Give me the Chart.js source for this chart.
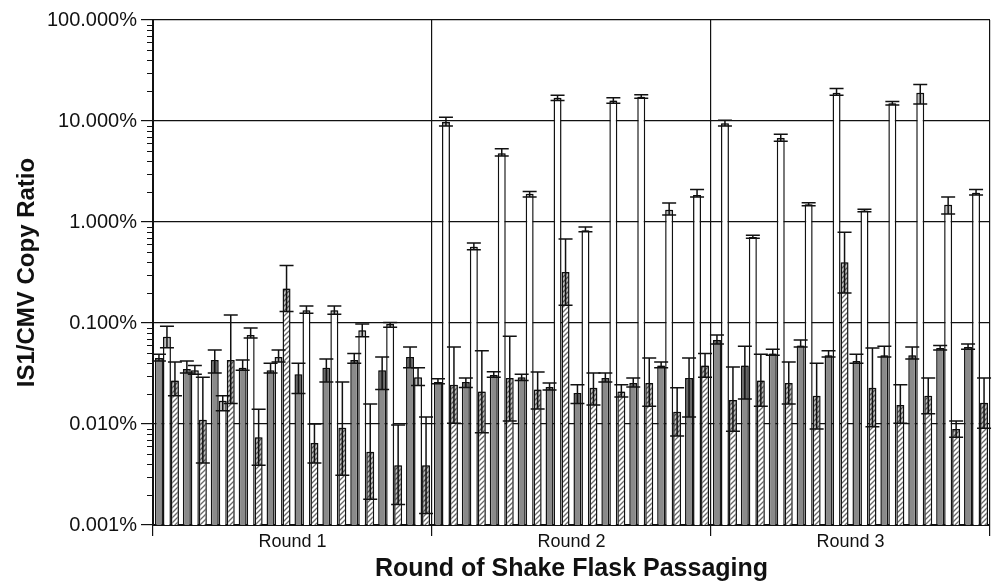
<!DOCTYPE html>
<html>
<head>
<meta charset="utf-8">
<script src="https://cdn.jsdelivr.net/npm/chart.js@4.4.1/dist/chart.umd.min.js"></script>
<style>
  html, body { margin: 0; padding: 0; background: #fff; }
  #wrap { width: 993px; height: 583px; position: relative; }
</style>
</head>
<body>
<div id="wrap"><canvas id="chart"></canvas></div>
<script>
// 30 flask samples, 10 per passaging round
var groups = ['1a','1b','1c','1d','1e','1f','1g','1h','1i','1j',
              '2a','2b','2c','2d','2e','2f','2g','2h','2i','2j',
              '3a','3b','3c','3d','3e','3f','3g','3h','3i','3j'];
var rounds = ['Round 1', 'Round 2', 'Round 3'];

// values in percent (IS1/CMV copy ratio)
var gray   = [0.045, 0.035, 0.043, 0.036, 0.034, 0.031, 0.036, 0.043, 0.034, 0.046,
              0.026, 0.026, 0.0306, 0.029, 0.0233, 0.0203, 0.0285, 0.0255, 0.038, 0.0285,
              0.068, 0.038, 0.05, 0.06, 0.048, 0.042, 0.048, 0.048, 0.0565, 0.058];
var grayHi = [0.049, 0.042, 0.054, 0.043, 0.040, 0.040, 0.044, 0.050, 0.046, 0.058,
              0.028, 0.0285, 0.033, 0.031, 0.0255, 0.0244, 0.032, 0.0285, 0.041, 0.045,
              0.076, 0.059, 0.055, 0.068, 0.053, 0.049, 0.059, 0.058, 0.060, 0.062];
var grayLo = [0.042, 0.032, 0.032, 0.034, 0.032, 0.020, 0.026, 0.040, 0.022, 0.036,
              0.025, 0.023, 0.029, 0.027, 0.0217, 0.016, 0.026, 0.0233, 0.036, 0.0117,
              0.062, 0.0177, 0.048, 0.058, 0.046, 0.040, 0.046, 0.044, 0.054, 0.055];

var white   = [0.073, 0.034, 0.017, 0.076, 0.046, 0.134, 0.134, 0.085, 0.098, 0.029,
               9.8, 0.57, 4.8, 1.9, 17, 0.83, 16, 17.4, 1.32, 1.85,
               9.5, 0.71, 6.8, 1.5, 19, 1.3, 15, 19, 1.48, 1.95];
var whiteHi = [0.093, 0.038, 0.019, 0.089, 0.054, 0.147, 0.147, 0.098, 0.101, 0.036,
               10.9, 0.62, 5.3, 2.0, 18, 0.89, 17, 18.2, 1.54, 2.1,
               10.2, 0.74, 7.4, 1.55, 21, 1.34, 15.6, 23, 1.77, 2.1];
var whiteLo = [0.057, 0.031, 0.0135, 0.071, 0.041, 0.125, 0.122, 0.073, 0.091, 0.024,
               8.9, 0.53, 4.5, 1.77, 16, 0.80, 15, 16.8, 1.17, 1.77,
               8.9, 0.69, 6.3, 1.45, 18, 1.26, 14.4, 14.7, 1.2, 1.85];

var hatched   = [0.027, 0.011, 0.043, 0.0074, 0.22, 0.0065, 0.0092, 0.0053, 0.0039, 0.0039,
                 0.0244, 0.021, 0.0285, 0.022, 0.32, 0.0228, 0.021, 0.0255, 0.0132, 0.038,
                 0.0173, 0.027, 0.0255, 0.019, 0.40, 0.0228, 0.0154, 0.019, 0.0089, 0.0162];
var hatchedHi = [0.041, 0.029, 0.12, 0.014, 0.37, 0.010, 0.026, 0.0158, 0.0098, 0.0117,
                 0.058, 0.053, 0.074, 0.0327, 0.68, 0.032, 0.0244, 0.045, 0.0228, 0.05,
                 0.0367, 0.049, 0.041, 0.040, 0.79, 0.0565, 0.0244, 0.0285, 0.0107, 0.0285];
var hatchedLo = [0.019, 0.0041, 0.016, 0.0039, 0.13, 0.0041, 0.0031, 0.0018, 0.0016, 0.0013,
                 0.0102, 0.0082, 0.0107, 0.0141, 0.15, 0.0154, 0.0185, 0.015, 0.0076, 0.029,
                 0.0085, 0.015, 0.0158, 0.0089, 0.198, 0.0094, 0.0102, 0.0126, 0.0074, 0.0091];

var yMin = 0.001, yMax = 100;

var FONT = "'Liberation Sans', Arial, sans-serif";

function hatchPattern() {
    var c = document.createElement('canvas');
    c.width = 5; c.height = 5;
    var g = c.getContext('2d');
    g.fillStyle = '#fff';
    g.fillRect(0, 0, 5, 5);
    g.strokeStyle = '#6a6a6a';
    g.lineWidth = 1.3;
    g.beginPath();
    g.moveTo(0, 5); g.lineTo(5, 0);
    g.moveTo(-1, 1); g.lineTo(1, -1);
    g.moveTo(4, 6); g.lineTo(6, 4);
    g.stroke();
    return g.createPattern(c, 'repeat');
}

function isMajor(v) {
    var e = Math.log10(v);
    return Math.abs(e - Math.round(e)) < 1e-6;
}

var errorBars = {
    id: 'errorBars',
    afterDatasetsDraw: function (chart) {
        var ctx = chart.ctx, y = chart.scales.y;
        var errs = [[grayHi, grayLo], [whiteHi, whiteLo], [hatchedHi, hatchedLo]];
        ctx.save();
        errs.forEach(function (e, d) {
            var meta = chart.getDatasetMeta(d);
            meta.data.forEach(function (bar, i) {
                var hi = y.getPixelForValue(e[0][i]);
                var lo = y.getPixelForValue(e[1][i]);
                var half = bar.width / 2;
                // darker band where the lower error overlaps the bar
                ctx.fillStyle = 'rgba(0,0,0,0.25)';
                ctx.fillRect(bar.x - half + 1, bar.y, bar.width - 2, lo - bar.y);
                ctx.strokeStyle = '#111';
                ctx.lineWidth = 1.5;
                ctx.beginPath();
                ctx.moveTo(bar.x, hi); ctx.lineTo(bar.x, lo);
                ctx.moveTo(bar.x - half - 3, hi); ctx.lineTo(bar.x + half + 3, hi);
                ctx.moveTo(bar.x - half - 3, lo); ctx.lineTo(bar.x + half + 3, lo);
                ctx.stroke();
            });
        });
        ctx.restore();
    }
};

// short minor ticks on the log axis
var minorTicks = {
    id: 'minorTicks',
    afterDraw: function (chart) {
        var ctx = chart.ctx, y = chart.scales.y;
        ctx.save();
        ctx.strokeStyle = '#111';
        ctx.lineWidth = 1;
        y.ticks.forEach(function (t) {
            if (isMajor(t.value)) return;
            var py = Math.round(y.getPixelForValue(t.value)) + 0.5;
            ctx.beginPath();
            ctx.moveTo(y.right - 6, py); ctx.lineTo(y.right, py);
            ctx.stroke();
        });
        ctx.restore();
    }
};

new Chart(document.getElementById('chart'), {
    type: 'bar',
    data: {
        labels: groups,
        datasets: [
            { label: 'gray', data: gray, backgroundColor: '#8a8a8a' },
            { label: 'white', data: white, backgroundColor: '#ffffff' },
            { label: 'hatched', data: hatched, backgroundColor: hatchPattern() }
        ].map(function (ds) {
            ds.borderColor = '#111';
            ds.borderWidth = 1.5;
            ds.categoryPercentage = 0.86;
            ds.barPercentage = 1.0;
            return ds;
        })
    },
    options: {
        responsive: true,
        maintainAspectRatio: false,
        animation: false,
        layout: { padding: { top: 20, right: 3, left: 0, bottom: 0 } },
        plugins: {
            legend: { display: false },
            tooltip: { enabled: false }
        },
        scales: {
            x: { display: false, offset: true },
            xr: {
                type: 'category',
                labels: rounds,
                position: 'bottom',
                offset: true,
                grid: { offset: true, color: '#111', lineWidth: 1.2, tickLength: 11, tickColor: '#111' },
                border: { color: '#111', width: 2 },
                ticks: { color: '#111', padding: -5, font: { family: FONT, size: 18 } },
                title: {
                    display: true,
                    text: 'Round of Shake Flask Passaging',
                    color: '#111',
                    padding: { top: 0, bottom: 1 },
                    font: { family: FONT, size: 25, weight: 'bold', lineHeight: 1 }
                },
                afterFit: function (s) { s.height = 58; }
            },
            y: {
                type: 'logarithmic',
                min: yMin,
                max: yMax,
                position: 'left',
                border: { color: '#111', width: 2 },
                grid: {
                    color: function (c) { return c.tick && isMajor(c.tick.value) ? '#111' : 'rgba(0,0,0,0)'; },
                    tickColor: function (c) { return c.tick && isMajor(c.tick.value) ? '#111' : 'rgba(0,0,0,0)'; },
                    lineWidth: 1.2,
                    tickLength: 12
                },
                afterBuildTicks: function (s) {
                    s.ticks = s.ticks.filter(function (t) {
                        var m = t.value / Math.pow(10, Math.floor(Math.log10(t.value) + 1e-9));
                        return Math.abs(m - Math.round(m)) < 1e-6;
                    });
                },
                ticks: {
                    autoSkip: false,
                    color: '#111',
                    padding: 4,
                    font: { family: FONT, size: 20 },
                    callback: function (v) { return isMajor(v) ? v.toFixed(3) + '%' : ''; }
                },
                title: {
                    display: true,
                    text: 'IS1/CMV Copy Ratio',
                    color: '#111',
                    padding: { top: 13, bottom: 0 },
                    font: { family: FONT, size: 24, weight: 'bold', lineHeight: 1.2 }
                },
                afterFit: function (s) { s.width = 153; }
            }
        }
    },
    plugins: [errorBars, minorTicks]
});
</script>
</body>
</html>
